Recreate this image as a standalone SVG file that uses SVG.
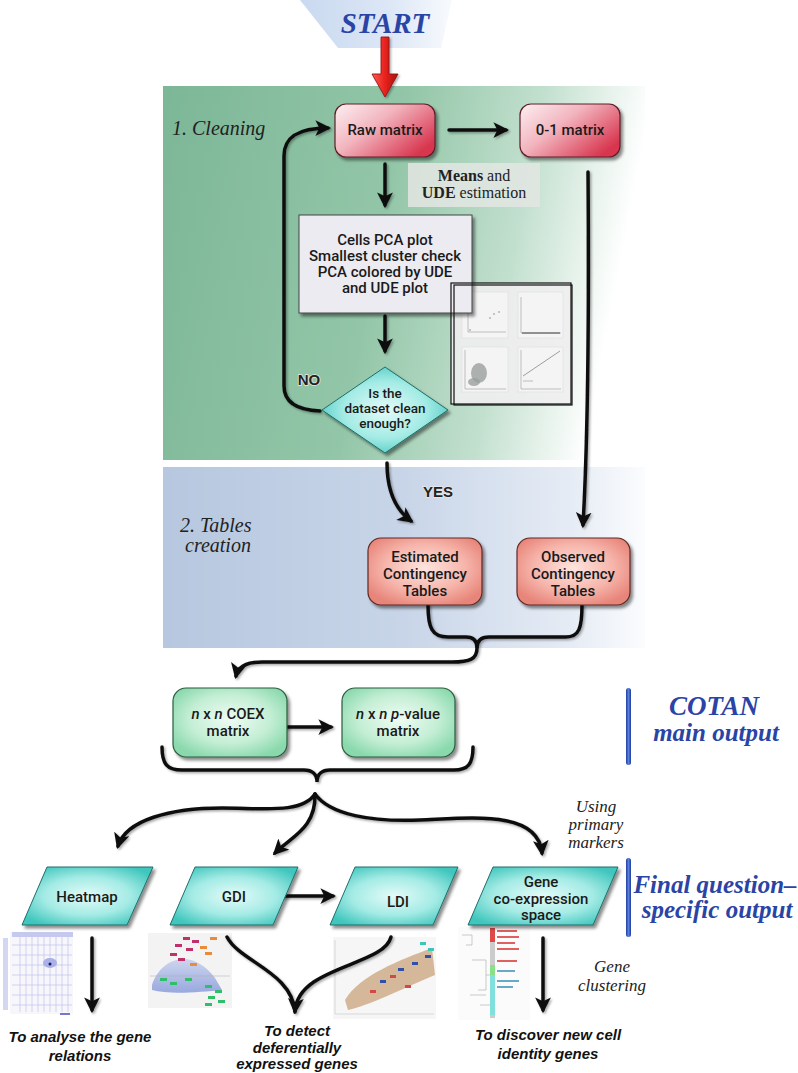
<svg xmlns="http://www.w3.org/2000/svg" width="798" height="1073" viewBox="0 0 798 1073">
<defs>
<style>
.box{font-family:Roboto,"Liberation Sans",sans-serif;font-weight:500;font-size:15px;fill:#1a1a1a;text-anchor:middle}
.dia{font-family:Roboto,"Liberation Sans",sans-serif;font-weight:500;font-size:13.5px;fill:#1a1a1a;text-anchor:middle}
.ital{font-family:"Liberation Serif",serif;font-style:italic;fill:#222}
.side{font-family:"Liberation Serif",serif;font-style:italic;fill:#222;font-size:17px;text-anchor:middle}
.blue{font-family:"Liberation Serif",serif;font-style:italic;font-weight:bold;fill:#2a44a6;text-anchor:middle}
.goal{font-family:"Liberation Sans",sans-serif;font-style:italic;font-weight:bold;font-size:15px;fill:#111;text-anchor:middle}
.con{fill:none;stroke:#111;stroke-width:3.5;stroke-linecap:round}
.arr{marker-end:url(#ah)}
.lbl{font-family:"Liberation Sans",sans-serif;font-weight:bold;font-size:15px;fill:#222;text-anchor:middle}
.pl{fill:#f4f4f4;stroke:#ddd;stroke-width:0.6}
</style>
<linearGradient id="gGreen" x1="0" y1="0" x2="1" y2="0.15">
<stop offset="0" stop-color="#7cb797"/><stop offset="0.5" stop-color="#93c6a8"/><stop offset="0.78" stop-color="#c3e0cf"/><stop offset="1" stop-color="#ffffff"/>
</linearGradient>
<linearGradient id="gBlue" x1="0" y1="0" x2="1" y2="0">
<stop offset="0" stop-color="#b6c7df"/><stop offset="0.5" stop-color="#c8d5e8"/><stop offset="0.85" stop-color="#e6ecf5"/><stop offset="1" stop-color="#fbfcfe"/>
</linearGradient>
<linearGradient id="gStart" x1="0" y1="0" x2="1" y2="0">
<stop offset="0" stop-color="#c9d9f0"/><stop offset="0.6" stop-color="#dde7f6"/><stop offset="1" stop-color="#f8fafd"/>
</linearGradient>
<linearGradient id="gRaw" x1="0" y1="0" x2="1" y2="0.7">
<stop offset="0" stop-color="#fdf0f2"/><stop offset="0.45" stop-color="#f2b4be"/><stop offset="1" stop-color="#d8364f"/>
</linearGradient>
<radialGradient id="gSalmon" cx="0.5" cy="0.45" r="0.6">
<stop offset="0" stop-color="#fde4de"/><stop offset="0.6" stop-color="#f6b4aa"/><stop offset="1" stop-color="#e8857a"/>
</radialGradient>
<radialGradient id="gMint" cx="0.5" cy="0.45" r="0.6">
<stop offset="0" stop-color="#effcf4"/><stop offset="0.6" stop-color="#c3eed4"/><stop offset="1" stop-color="#8ad9ad"/>
</radialGradient>
<radialGradient id="gCyan" cx="0.5" cy="0.5" r="0.6">
<stop offset="0" stop-color="#e4fbf8"/><stop offset="0.55" stop-color="#a4ebe5"/><stop offset="1" stop-color="#3fc6bd"/>
</radialGradient>
<linearGradient id="gRed" x1="0" y1="0" x2="1" y2="0">
<stop offset="0" stop-color="#ff5a50"/><stop offset="0.5" stop-color="#e8221e"/><stop offset="1" stop-color="#a8100e"/>
</linearGradient>
<linearGradient id="gBar" x1="0" y1="0" x2="1" y2="0">
<stop offset="0" stop-color="#1f3c9c"/><stop offset="0.5" stop-color="#5a7fdc"/><stop offset="1" stop-color="#1f3c9c"/>
</linearGradient>
<linearGradient id="gCloud" x1="0" y1="0" x2="0" y2="1">
<stop offset="0" stop-color="#c9d2ee"/><stop offset="1" stop-color="#8fa0dc"/>
</linearGradient>
<filter id="sh" x="-20%" y="-20%" width="150%" height="160%">
<feDropShadow dx="2.5" dy="3" stdDeviation="1.8" flood-color="#000" flood-opacity="0.45"/>
</filter>
<filter id="shs" x="-10%" y="-10%" width="130%" height="130%">
<feDropShadow dx="1.5" dy="1.5" stdDeviation="1" flood-color="#000" flood-opacity="0.35"/>
</filter>
<marker id="ah" viewBox="0 0 10 10" refX="8" refY="5" markerWidth="4.5" markerHeight="4.5" orient="auto">
<path d="M0,0 L10,5 L0,10 L2.5,5 z" fill="#111"/>
</marker>
</defs>

<rect width="798" height="1073" fill="#ffffff"/>

<!-- panels -->
<g id="panels">
<rect x="163" y="86" width="482" height="374" fill="url(#gGreen)"/>
<rect x="163" y="467" width="482" height="181" fill="url(#gBlue)"/>
<polygon points="300,0 452,0 441,48 338,48" fill="url(#gStart)"/>
</g>

<!-- result thumbnails -->
<g id="heatmap-image">
<rect x="10" y="932" width="63" height="82" fill="#f6f6fb"/>
<g stroke="#b8bde8" stroke-width="0.6">
<path d="M20,934 V1012 M26,934 V1012 M32,934 V1012 M38,934 V1012 M44,934 V1012 M50,934 V1012 M56,934 V1012 M62,934 V1012 M68,934 V1012"/>
<path d="M12,945 H72 M12,955 H72 M12,965 H72 M12,975 H72 M12,985 H72 M12,995 H72 M12,1005 H72"/>
</g>
<rect x="12" y="932" width="61" height="5" fill="#c5c9ee"/>
<rect x="3" y="938" width="5" height="72" fill="#d4d7f2"/>
<ellipse cx="50" cy="963" rx="7" ry="5" fill="#aab0ea"/>
<circle cx="50" cy="964" r="1.5" fill="#1a1a5a"/>
<rect x="60" y="1013" width="10" height="2" fill="#7777cc"/>
</g>
<g id="gdi-image">
<rect x="148" y="933" width="84" height="75" fill="#f3f3f3"/>
<path d="M152,985 C160,960 190,945 215,978 L222,990 C200,992 170,995 152,990 Z" fill="url(#gCloud)" opacity="0.9"/>
<path d="M150,976 H230" stroke="#aaa" stroke-width="0.5"/>
<g fill="#c0306a"><rect x="183" y="937" width="7" height="3"/><rect x="192" y="940" width="7" height="3"/><rect x="175" y="944" width="7" height="3"/><rect x="186" y="948" width="7" height="3"/><rect x="170" y="953" width="7" height="3"/><rect x="178" y="958" width="7" height="3"/></g>
<g fill="#ea8a3a"><rect x="210" y="937" width="7" height="3"/><rect x="200" y="946" width="7" height="3"/><rect x="205" y="952" width="7" height="3"/><rect x="190" y="963" width="7" height="3"/></g>
<g fill="#2fbf6a"><rect x="160" y="978" width="7" height="3"/><rect x="170" y="982" width="7" height="3"/><rect x="185" y="978" width="7" height="3"/><rect x="205" y="985" width="7" height="3"/><rect x="215" y="990" width="7" height="3"/><rect x="208" y="996" width="7" height="3"/><rect x="218" y="1000" width="7" height="3"/><rect x="205" y="1003" width="7" height="3"/></g>
</g>
<g id="ldi-image">
<rect x="333" y="937" width="103" height="82" fill="#f6f6f6"/>
<path d="M335,940 V1014 H434" fill="none" stroke="#bbb" stroke-width="0.5"/>
<path d="M345,1000 C360,975 400,960 432,948 L435,975 C400,990 370,1005 348,1010 Z" fill="#c9a27a" opacity="0.75"/>
<g fill="#2f4fa8"><rect x="398" y="968" width="6" height="3"/><rect x="412" y="962" width="6" height="3"/><rect x="425" y="955" width="6" height="3"/><rect x="380" y="980" width="6" height="3"/></g>
<g fill="#d24848"><rect x="390" y="975" width="6" height="3"/><rect x="405" y="985" width="6" height="3"/><rect x="370" y="990" width="6" height="3"/></g>
<g fill="#3cc6b8"><rect x="420" y="942" width="6" height="3"/><rect x="428" y="948" width="6" height="3"/></g>
</g>
<g id="cluster-image">
<rect x="458" y="927" width="72" height="93" fill="#fbfbfb"/>
<path d="M462,935 H472 V945 H466 M472,960 H486 V990 H478 M486,975 H490 M470,995 H486 M480,1005 H490" fill="none" stroke="#aaa" stroke-width="0.6"/>
<rect x="490" y="928" width="5" height="90" fill="#ccc"/>
<rect x="490" y="928" width="5" height="14" fill="#e04848"/>
<rect x="490" y="965" width="5" height="10" fill="#88e088"/>
<rect x="490" y="975" width="5" height="40" fill="#7fe0dc"/>
<g fill="#e06060"><rect x="497" y="930" width="20" height="2"/><rect x="497" y="936" width="22" height="2"/><rect x="497" y="942" width="18" height="2"/><rect x="497" y="948" width="22" height="2"/><rect x="497" y="960" width="20" height="2"/></g>
<g fill="#6aa8c8"><rect x="497" y="970" width="18" height="2"/><rect x="497" y="980" width="22" height="2"/><rect x="497" y="986" width="16" height="2"/></g>
</g>

<!-- section labels -->
<g id="labels">
<text class="blue" x="385" y="33" font-size="29">START</text>
<text class="ital" x="172" y="135" font-size="20">1. Cleaning</text>
<text class="ital" x="180" y="532" font-size="20">2. Tables</text>
<text class="ital" x="185" y="552" font-size="20">creation</text>
<text class="side" x="596" y="812">Using</text>
<text class="side" x="596" y="830">primary</text>
<text class="side" x="596" y="848">markers</text>
<text class="side" x="612" y="972">Gene</text>
<text class="side" x="612" y="991">clustering</text>
<rect x="626" y="688" width="5" height="77" rx="2.5" fill="url(#gBar)"/>
<text class="blue" x="714" y="715" font-size="27">COTAN</text>
<text class="blue" x="716" y="741" font-size="25">main output</text>
<rect x="626" y="858" width="5" height="79" rx="2.5" fill="url(#gBar)"/>
<text class="blue" x="715" y="893" font-size="25">Final question–</text>
<text class="blue" x="717" y="918" font-size="25">specific output</text>
<text class="goal" x="80" y="1042">To analyse the gene</text>
<text class="goal" x="80" y="1061">relations</text>
<text class="goal" x="297" y="1036">To detect</text>
<text class="goal" x="297" y="1053">deferentially</text>
<text class="goal" x="297" y="1069">expressed genes</text>
<text class="goal" x="548" y="1040">To discover new cell</text>
<text class="goal" x="548" y="1059">identity genes</text>
</g>

<!-- connectors -->
<g id="connectors">
<g filter="url(#shs)">
<path d="M381,37 H389 V74 H398 L385,97 L372,74 H381 Z" fill="url(#gRed)" stroke="#8a1010" stroke-width="0.8"/>
</g>
<g filter="url(#shs)">
<path class="con arr" d="M449,130 H506"/>
<path class="con arr" d="M385,164 V205"/>
<path class="con arr" d="M385,316 V351"/>
<path class="con arr" d="M320,411 C296,410 284,402 284,386 L284,156 C284,137 298,128 328,128"/>
<path class="con arr" d="M588,172 C589,300 589,420 583,525"/>
<path class="con arr" d="M387,463 C387,492 396,510 411,521"/>
<path class="con" d="M428,605 C428,628 432,637 448,637 L466,637 C474,637 477,641 477,648 C477,641 481,637 489,637 L566,637 C579,637 582,628 582,605"/>
<path class="con arr" d="M477,648 C477,659 470,662 452,662 L262,662 C246,662 238,667 236,676"/>
<path class="con arr" d="M276,727 H331"/>
<path class="con" d="M162,747 C162,764 167,770 182,770 L304,770 C312,770 317,774 317,782 C317,774 322,770 330,770 L454,770 C468,770 473,764 473,747"/>
<path class="con arr" d="M315,794 C302,814 262,808 222,808 C170,808 126,820 118,846"/>
<path class="con arr" d="M315,794 C316,828 292,836 275,853"/>
<path class="con arr" d="M315,794 C330,815 372,822 420,820 C472,818 538,810 542,853"/>
<path class="con arr" d="M276,896 H333"/>
<path class="con arr" d="M92,938 V1010"/>
<path class="con" d="M227,937 C240,962 292,972 295,1012"/>
<path class="con arr" d="M391,937 C384,966 298,966 295,1011"/>
<path class="con arr" d="M543,938 V1010"/>
</g>
<text class="lbl" x="309" y="385" style="paint-order:stroke" stroke="#e8e8e8" stroke-width="1.5">NO</text>
<text class="lbl" x="438" y="497" style="paint-order:stroke" stroke="#e8e8e8" stroke-width="1.5">YES</text>
</g>

<!-- nodes -->
<g id="raw-matrix">
<rect x="335" y="104" width="100" height="53" rx="11" fill="url(#gRaw)" stroke="#5e1f28" stroke-width="1.2" filter="url(#sh)"/>
<text class="box" x="385" y="135">Raw matrix</text>
</g>
<g id="binary-matrix">
<rect x="520" y="104" width="100" height="53" rx="11" fill="url(#gRaw)" stroke="#5e1f28" stroke-width="1.2" filter="url(#sh)"/>
<text class="box" x="570" y="135">0-1 matrix</text>
</g>
<g id="means-note">
<rect x="408" y="163" width="132" height="44" fill="#e3e6e3" opacity="0.85"/>
<text font-family="'Liberation Serif',serif" font-size="16" fill="#222" text-anchor="middle" x="474" y="181"><tspan font-weight="bold">Means</tspan> and</text>
<text font-family="'Liberation Serif',serif" font-size="16" fill="#222" text-anchor="middle" x="474" y="198"><tspan font-weight="bold">UDE</tspan> estimation</text>
</g>
<g id="pca-thumbnail">
<rect x="451" y="283" width="120" height="121" fill="#eeeeee" fill-opacity="0.9"/>
<rect class="pl" x="462" y="292" width="46" height="46"/>
<path d="M468,296 V332 H506" fill="none" stroke="#888" stroke-width="0.5"/>
<circle cx="490" cy="318" r="0.8" fill="#888"/><circle cx="494" cy="314" r="0.8" fill="#888"/><circle cx="499" cy="312" r="0.8" fill="#888"/><circle cx="470" cy="330" r="0.8" fill="#888"/>
<rect class="pl" x="518" y="292" width="45" height="46"/>
<path d="M521,297 V333 H561" fill="none" stroke="#888" stroke-width="0.5"/>
<path d="M522,333 H560" stroke="#777" stroke-width="1.4"/>
<rect class="pl" x="462" y="347" width="46" height="45"/>
<path d="M465,350 V389 H506" fill="none" stroke="#888" stroke-width="0.5"/>
<ellipse cx="479" cy="373" rx="8" ry="10" fill="#9aa09d" opacity="0.8"/>
<ellipse cx="474" cy="382" rx="6" ry="4" fill="#9aa09d" opacity="0.8"/>
<rect class="pl" x="518" y="347" width="45" height="45"/>
<path d="M521,350 V389 H561" fill="none" stroke="#888" stroke-width="0.5"/>
<path d="M523,376 L560,351" stroke="#888" stroke-width="0.8"/>
<path d="M523,381 H533" stroke="#999" stroke-width="0.6"/>
</g>
<g id="pca-box">
<rect x="299" y="215" width="173" height="98" fill="#ecebf2" stroke="#444" stroke-width="1" filter="url(#sh)"/>
<text class="box" x="385" y="245">Cells PCA plot</text>
<text class="box" x="385" y="261">Smallest cluster check</text>
<text class="box" x="385" y="277">PCA colored by UDE</text>
<text class="box" x="385" y="293">and UDE plot</text>
</g>
<g id="pca-thumbnail-frame">
<rect x="451" y="283" width="120" height="121" fill="none" stroke="#111" stroke-width="1.2"/>
<rect x="454" y="285" width="118" height="120" fill="none" stroke="#111" stroke-width="1.2"/>
</g>
<g id="clean-check">
<polygon points="385,367 448,410 385,453 322,410" fill="url(#gCyan)" stroke="#1f6d68" stroke-width="1" filter="url(#sh)"/>
<text class="dia" x="385" y="398">Is the</text>
<text class="dia" x="385" y="413">dataset clean</text>
<text class="dia" x="385" y="428">enough?</text>
</g>
<g id="estimated-tables">
<rect x="368" y="538" width="114" height="67" rx="13" fill="url(#gSalmon)" stroke="#5e2a24" stroke-width="1.2" filter="url(#sh)"/>
<text class="box" x="425" y="562">Estimated</text>
<text class="box" x="425" y="579">Contingency</text>
<text class="box" x="425" y="596">Tables</text>
</g>
<g id="observed-tables">
<rect x="517" y="538" width="113" height="67" rx="13" fill="url(#gSalmon)" stroke="#5e2a24" stroke-width="1.2" filter="url(#sh)"/>
<text class="box" x="573" y="562">Observed</text>
<text class="box" x="573" y="579">Contingency</text>
<text class="box" x="573" y="596">Tables</text>
</g>
<g id="coex-matrix">
<rect x="173" y="688" width="114" height="69" rx="13" fill="url(#gMint)" stroke="#2d5a3f" stroke-width="1.2" filter="url(#sh)"/>
<text class="box" x="228" y="719"><tspan font-style="italic">n</tspan> x <tspan font-style="italic">n</tspan> COEX</text>
<text class="box" x="228" y="736">matrix</text>
</g>
<g id="pvalue-matrix">
<rect x="342" y="688" width="113" height="69" rx="13" fill="url(#gMint)" stroke="#2d5a3f" stroke-width="1.2" filter="url(#sh)"/>
<text class="box" x="398" y="719"><tspan font-style="italic">n</tspan> x <tspan font-style="italic">n</tspan> <tspan font-style="italic">p</tspan>-value</text>
<text class="box" x="398" y="736">matrix</text>
</g>
<g id="heatmap">
<polygon points="47,867 153,867 127,925 22,925" fill="url(#gCyan)" stroke="#1f6d68" stroke-width="1" filter="url(#sh)"/>
<text class="box" x="87" y="902">Heatmap</text>
</g>
<g id="gdi">
<polygon points="195,867 298,867 273,925 170,925" fill="url(#gCyan)" stroke="#1f6d68" stroke-width="1" filter="url(#sh)"/>
<text class="box" x="234" y="902">GDI</text>
</g>
<g id="ldi">
<polygon points="355,867 458,867 433,925 330,925" fill="url(#gCyan)" stroke="#1f6d68" stroke-width="1" filter="url(#sh)"/>
<text class="box" x="398" y="907">LDI</text>
</g>
<g id="gene-space">
<polygon points="493,867 618,867 593,925 468,925" fill="url(#gCyan)" stroke="#1f6d68" stroke-width="1" filter="url(#sh)"/>
<text class="box" x="541" y="887">Gene</text>
<text class="box" x="541" y="904">co-expression</text>
<text class="box" x="541" y="920">space</text>
</g>
</svg>
